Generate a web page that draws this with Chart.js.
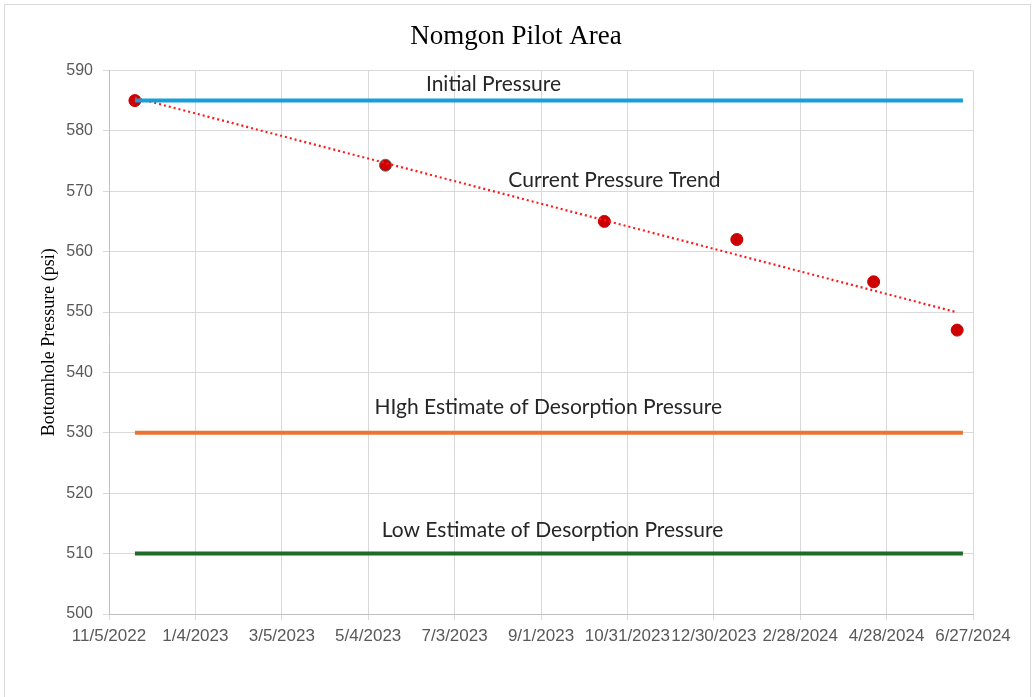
<!DOCTYPE html>
<html>
<head>
<meta charset="utf-8">
<title>Nomgon Pilot Area</title>
<script src="https://cdn.jsdelivr.net/npm/chart.js@4.4.1/dist/chart.umd.min.js"></script>
<style>
  html, body { margin: 0; padding: 0; background: #fff; }
  #wrap { width: 1032px; height: 697px; position: relative; }
</style>
</head>
<body>
<div id="wrap"><canvas id="pressureChart"></canvas></div>
<script>
// Measured bottomhole pressures
const sampleDates = ['11/23/2022', '5/16/2023', '10/15/2023', '1/15/2024', '4/19/2024', '6/16/2024'];
const samplePressure = [585, 574.3, 565, 562, 555, 547];

// Reference pressure levels (psi), drawn across the monitoring period
const initialPressure = 585;
const highDesorption = 530;
const lowDesorption = 510;
const levelDates = ['11/23/2022', '6/20/2024'];

// Axis settings
const axisStart = '11/5/2022';
const axisDays = 600;
const tickDays = 60;
const pressureMin = 500;
const pressureMax = 590;
const pressureStep = 10;

// Text labels: [text, date, pressure]
const chartNotes = [
    ['Initial Pressure', '7/30/2023', 587.7],
    ['Current Pressure Trend', '10/22/2023', 571.8],
    ['HIgh Estimate of Desorption Pressure', '9/6/2023', 534.2],
    ['Low Estimate of Desorption Pressure', '9/9/2023', 513.9]
];

const DAY = 24 * 60 * 60 * 1000;
function toUTC(s) {
    const p = s.split('/').map(Number);
    return Date.UTC(p[2], p[0] - 1, p[1]);
}
const base = toUTC(axisStart);
function dayOf(s) { return Math.round((toUTC(s) - base) / DAY); }
function dateLabel(d) {
    const t = new Date(base + d * DAY);
    return (t.getUTCMonth() + 1) + '/' + t.getUTCDate() + '/' + t.getUTCFullYear();
}

const samples = sampleDates.map((d, i) => ({ x: dayOf(d), y: samplePressure[i] }));

// Least squares trend through the measured points
const n = samples.length;
const mx = samples.reduce((a, p) => a + p.x, 0) / n;
const my = samples.reduce((a, p) => a + p.y, 0) / n;
let sxy = 0, sxx = 0;
samples.forEach(p => { sxy += (p.x - mx) * (p.y - my); sxx += (p.x - mx) * (p.x - mx); });
const slope = sxy / sxx;
const trendAt = x => my + slope * (x - mx);
const trend = [samples[0].x, samples[n - 1].x].map(x => ({ x: x, y: trendAt(x) }));

function level(v) {
    return levelDates.map(d => ({ x: dayOf(d), y: v }));
}

const levelStyle = {
    showLine: true,
    borderWidth: 4,
    borderCapStyle: 'butt',
    pointRadius: 0,
    pointHoverRadius: 0
};

// Outer frame around the whole chart
const frame = {
    id: 'frame',
    beforeDraw(chart) {
        const ctx = chart.ctx;
        ctx.save();
        ctx.fillStyle = '#ffffff';
        ctx.fillRect(0, 0, chart.width, chart.height);
        ctx.strokeStyle = '#d9d9d9';
        ctx.lineWidth = 1;
        ctx.strokeRect(4.5, 4.5, 1026, 720);
        ctx.restore();
    }
};

// Text notes placed in data coordinates
const notes = {
    id: 'notes',
    afterDatasetsDraw(chart) {
        const ctx = chart.ctx;
        const xs = chart.scales.x, ys = chart.scales.y;
        ctx.save();
        ctx.font = '21px Lato';
        ctx.fillStyle = '#262626';
        ctx.textAlign = 'center';
        ctx.textBaseline = 'middle';
        chartNotes.forEach(([text, d, v]) => {
            ctx.fillText(text, xs.getPixelForValue(dayOf(d)), ys.getPixelForValue(v));
        });
        ctx.restore();
    }
};

new Chart(document.getElementById('pressureChart'), {
    type: 'scatter',
    data: {
        datasets: [
            Object.assign({ label: 'Initial Pressure', data: level(initialPressure), borderColor: '#179fd9' }, levelStyle),
            Object.assign({ label: 'High Estimate', data: level(highDesorption), borderColor: '#ee7232' }, levelStyle),
            Object.assign({ label: 'Low Estimate', data: level(lowDesorption), borderColor: '#1d6b27' }, levelStyle),
            {
                label: 'Trend',
                data: trend,
                showLine: true,
                borderColor: '#ff1a1a',
                borderWidth: 2.2,
                borderDash: [2, 3],
                pointRadius: 0
            },
            {
                label: 'Bottomhole Pressure',
                data: samples,
                backgroundColor: '#cc0000',
                borderColor: ['#cc0000', '#666666', '#cc0000', '#cc0000', '#cc0000', '#cc0000'],
                borderWidth: 1,
                pointRadius: 6
            }
        ]
    },
    options: {
        responsive: true,
        maintainAspectRatio: false,
        animation: false,
        layout: { padding: 0 },
        plugins: {
            legend: { display: false },
            tooltip: { enabled: false },
            title: {
                display: true,
                text: 'Nomgon Pilot Area',
                color: '#000000',
                font: { family: 'Liberation Serif', size: 27, weight: 'normal' },
                padding: { top: 21, bottom: 17 }
            }
        },
        scales: {
            x: {
                type: 'linear',
                min: 0,
                max: axisDays,
                afterFit: s => { s.height = 83; },
                afterBuildTicks: s => {
                    s.ticks = [];
                    for (let d = 0; d <= axisDays; d += tickDays) s.ticks.push({ value: d });
                },
                ticks: {
                    autoSkip: false,
                    maxRotation: 0,
                    minRotation: 0,
                    padding: 6,
                    color: '#595959',
                    font: { family: 'Liberation Sans', size: 17 },
                    callback: v => dateLabel(v)
                },
                grid: { color: '#d9d9d9', tickLength: 6 },
                border: { color: '#bfbfbf' }
            },
            y: {
                min: pressureMin,
                max: pressureMax,
                afterFit: s => { s.width = 109; },
                ticks: {
                    stepSize: pressureStep,
                    padding: 10,
                    color: '#595959',
                    font: { family: 'Liberation Sans', size: 16 }
                },
                grid: { color: '#d9d9d9', tickLength: 6 },
                border: { color: '#bfbfbf' },
                title: {
                    display: true,
                    text: 'Bottomhole Pressure (psi)',
                    color: '#000000',
                    font: { family: 'Liberation Serif', size: 18 },
                    padding: { top: 38, bottom: 0 }
                }
            },
            // empty right-hand box that keeps space beside the plot
            yRight: {
                position: 'right',
                display: true,
                afterFit: s => { s.width = 59; },
                ticks: { display: false },
                grid: { display: false, drawTicks: false },
                border: { display: false }
            }
        }
    },
    plugins: [frame, notes]
});
</script>
</body>
</html>
